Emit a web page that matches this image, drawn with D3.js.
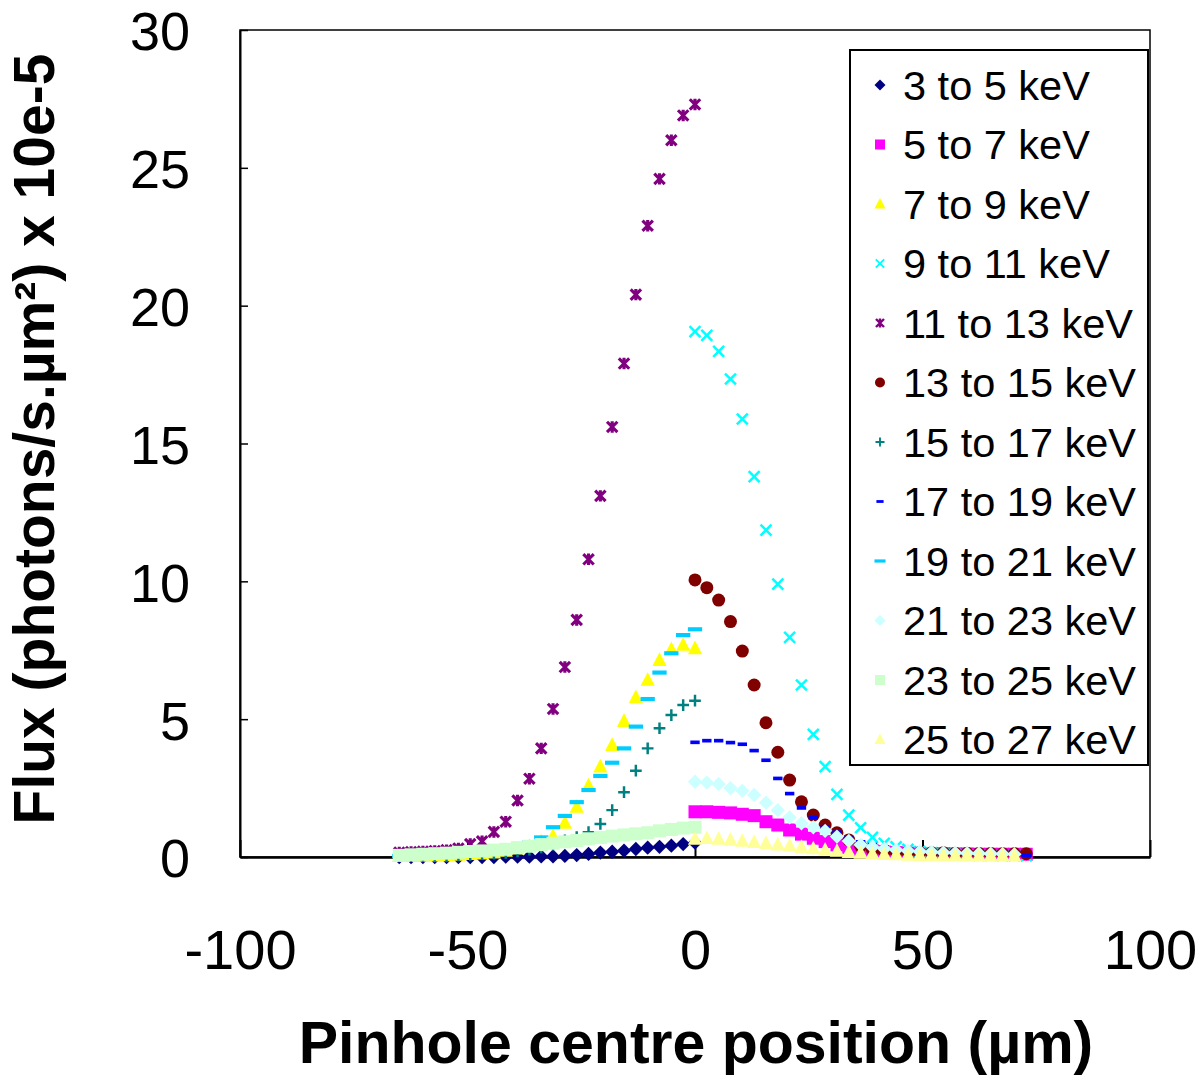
<!DOCTYPE html>
<html><head><meta charset="utf-8">
<script src="https://cdn.jsdelivr.net/npm/d3@7"></script>
<style>html,body{margin:0;padding:0;background:#fff;}svg{display:block;font-family:"Liberation Sans",Arial,Helvetica,sans-serif;}</style>
</head><body>
<svg id="chart" width="1200" height="1081"></svg>
<script>
// ---- data ----
const leftPositions = [0, -2.6, -5.2, -7.8, -10.4, -13, -15.6, -18.2, -20.8, -23.4, -26, -28.6, -31.2, -33.8, -36.4, -39, -41.6, -44.2, -46.8, -49.4, -52, -54.6, -57.2, -59.8, -62.4, -65];
const rightPositions = [0, 2.6, 5.2, 7.8, 10.4, 13, 15.6, 18.2, 20.8, 23.4, 26, 28.6, 31.2, 33.8, 36.4, 39, 41.6, 44.2, 46.8, 49.4, 52, 54.6, 57.2, 59.8, 62.4, 65, 67.6, 70.2, 72.8];

const kev3to5   = [0.52, 0.47, 0.41, 0.37, 0.34, 0.29, 0.23, 0.19, 0.16, 0.11, 0.07, 0.04, 0.02, 0.02, 0.01, 0.01, 0.01, 0, 0, 0, 0, 0, 0, 0, 0, 0];
const kev5to7   = [1.64, 1.64, 1.62, 1.6, 1.55, 1.5, 1.28, 1.16, 0.98, 0.83, 0.68, 0.56, 0.44, 0.35, 0.27, 0.22, 0.18, 0.16, 0.14, 0.13, 0.12, 0.12, 0.11, 0.11, 0.1, 0.1, 0.1, 0.1, 0.1];
const kev7to9   = [7.57, 7.69, 7.53, 7.14, 6.42, 5.79, 4.93, 4.06, 3.28, 2.59, 1.82, 1.24, 0.76, 0.56, 0.4, 0.3, 0.22, 0.16, 0.12, 0.1, 0.08, 0.06, 0.05, 0.04, 0.03, 0.03];
const kev9to11  = [19.06, 18.92, 18.34, 17.34, 15.89, 13.8, 11.86, 9.9, 7.97, 6.24, 4.45, 3.28, 2.27, 1.52, 1.06, 0.71, 0.5, 0.37, 0.28, 0.2, 0.15, 0.12, 0.1, 0.08, 0.07, 0.06, 0.05, 0.05, 0.04];
const kev11to13 = [27.3, 26.9, 26.0, 24.6, 22.9, 20.4, 17.9, 15.6, 13.1, 10.8, 8.6, 6.89, 5.37, 3.94, 2.84, 2.05, 1.28, 0.91, 0.57, 0.47, 0.31, 0.25, 0.22, 0.2, 0.18, 0.16];
const kev13to15 = [10.05, 9.77, 9.32, 8.54, 7.47, 6.24, 4.87, 3.8, 2.79, 2.0, 1.52, 1.16, 0.88, 0.62, 0.4, 0.25, 0.2, 0.18, 0.17, 0.16, 0.15, 0.15, 0.14, 0.14, 0.13, 0.13, 0.12, 0.12, 0.12];
const kev15to17 = [5.67, 5.51, 5.15, 4.67, 3.94, 3.13, 2.35, 1.7, 1.2, 0.9, 0.72, 0.6, 0.45, 0.35, 0.27, 0.2, 0.15, 0.12, 0.1, 0.08, 0.06, 0.05, 0.04, 0.04, 0.03, 0.03];
const kev17to19 = [4.16, 4.22, 4.22, 4.15, 4.09, 3.86, 3.51, 2.85, 2.3, 1.78, 1.43, 1.1, 0.9, 0.68, 0.55, 0.45, 0.37, 0.3, 0.25, 0.2, 0.17, 0.15, 0.13, 0.11, 0.1, 0.09, 0.08, 0.07, 0.06];
const kev19to21 = [8.26, 8.05, 7.39, 6.69, 5.73, 4.73, 3.94, 3.42, 2.94, 2.43, 1.99, 1.49, 1.08, 0.71, 0.52, 0.4, 0.3, 0.22, 0.16, 0.12, 0.1, 0.08, 0.06, 0.05, 0.04, 0.04];
const kev21to23 = [2.73, 2.7, 2.65, 2.5, 2.4, 2.25, 1.97, 1.7, 1.44, 1.22, 1.08, 0.95, 0.74, 0.58, 0.44, 0.36, 0.3, 0.26, 0.23, 0.2, 0.18, 0.16, 0.15, 0.14, 0.13, 0.12, 0.11, 0.1];
const kev23to25 = [1.08, 1.05, 1.0, 0.95, 0.88, 0.84, 0.8, 0.76, 0.71, 0.66, 0.6, 0.55, 0.5, 0.45, 0.39, 0.34, 0.28, 0.25, 0.22, 0.2, 0.17, 0.14, 0.12, 0.1, 0.08, 0.06];
const kev25to27 = [0.66, 0.68, 0.66, 0.62, 0.58, 0.54, 0.5, 0.45, 0.41, 0.36, 0.31, 0.26, 0.22, 0.18, 0.15, 0.12, 0.1, 0.09, 0.08, 0.07, 0.07, 0.06, 0.06, 0.06, 0.05, 0.05, 0.05, 0.05];

const seriesNames = ["3 to 5 keV","5 to 7 keV","7 to 9 keV","9 to 11 keV","11 to 13 keV","13 to 15 keV","15 to 17 keV","17 to 19 keV","19 to 21 keV","21 to 23 keV","23 to 25 keV","25 to 27 keV"];
const seriesValues = [kev3to5,kev5to7,kev7to9,kev9to11,kev11to13,kev13to15,kev15to17,kev17to19,kev19to21,kev21to23,kev23to25,kev25to27];
const seriesSide = ["L","R","L","R","L","R","L","R","L","R","L","R"];
const seriesColors = ["#000080","#FF00FF","#FFFF00","#00FFFF","#800080","#800000","#008080","#0000FF","#00CCFF","#CCFFFF","#CCFFCC","#FFFF99"];
const seriesMarkers = ["diamond","square","triangle","x","star","circle","plus","shortdash","longdash","diamond","square","triangle"];

const xTicks = [-100,-50,0,50,100];
const yTicks = [0,5,10,15,20,25,30];

// ---- layout ----
const svg = d3.select("#chart");
const x = d3.scaleLinear().domain([-100,100]).range([240,1150]);
const y = d3.scaleLinear().domain([0,30]).range([857,30]);

// frame
svg.append("rect").attr("x",240).attr("y",30).attr("width",910).attr("height",827)
  .attr("fill","none").attr("stroke","#000").attr("stroke-width",1.5);

// axes
const gx = svg.append("g").attr("transform","translate(0,857)")
  .call(d3.axisBottom(x).tickValues(xTicks).tickSizeInner(-17).tickSizeOuter(0).tickFormat(d3.format("d")));
gx.select(".domain").attr("stroke","#000").attr("stroke-width",2.5);
gx.selectAll(".tick line").attr("stroke","#000").attr("stroke-width",2);
gx.selectAll(".tick text").attr("y",112).attr("dy",null).attr("font-size",56)
  .attr("fill","#000").attr("font-family","'Liberation Sans',Arial,sans-serif").text(d => d < 0 ? "-" + Math.abs(d) : d);

const gy = svg.append("g").attr("transform","translate(240,0)")
  .call(d3.axisLeft(y).tickValues(yTicks).tickSizeInner(-8).tickSizeOuter(0).tickPadding(50));
gy.select(".domain").attr("stroke","#000").attr("stroke-width",2);
gy.selectAll(".tick line").attr("stroke","#000").attr("stroke-width",1.5);
gy.selectAll(".tick text").attr("font-size",54).attr("dy","0.37em").attr("fill","#000")
  .attr("font-family","'Liberation Sans',Arial,sans-serif");

// titles
svg.append("text").attr("x",696).attr("y",1063).attr("text-anchor","middle")
  .attr("font-size",59).attr("font-weight","bold").text("Pinhole centre position (µm)");
svg.append("text").attr("transform","translate(54,439) rotate(-90)").attr("text-anchor","middle")
  .attr("font-size",57).attr("font-weight","bold").text("Flux (photons/s.µm²) x 10e-5");

// marker drawing
function drawMarker(g, type, cx, cy, color, s) {
  switch(type) {
    case "diamond":
      g.append("path").attr("d",`M${cx},${cy-s*0.55}L${cx+s*0.55},${cy}L${cx},${cy+s*0.55}L${cx-s*0.55},${cy}Z`).attr("fill",color); break;
    case "square":
      g.append("rect").attr("x",cx-s*0.5).attr("y",cy-s*0.5).attr("width",s).attr("height",s).attr("fill",color); break;
    case "triangle":
      g.append("path").attr("d",`M${cx},${cy-s*0.6}L${cx+s*0.55},${cy+s*0.45}L${cx-s*0.55},${cy+s*0.45}Z`).attr("fill",color); break;
    case "circle":
      g.append("circle").attr("cx",cx).attr("cy",cy).attr("r",s*0.5).attr("fill",color); break;
    case "x": {
      const h = s*0.42;
      g.append("path").attr("d",`M${cx-h},${cy-h}L${cx+h},${cy+h}M${cx-h},${cy+h}L${cx+h},${cy-h}`)
        .attr("stroke",color).attr("stroke-width",Math.max(1.5,s*0.19)).attr("fill","none"); break; }
    case "star": {
      const h = s*0.4;
      g.append("path").attr("d",`M${cx-h},${cy-h}L${cx+h},${cy+h}M${cx-h},${cy+h}L${cx+h},${cy-h}M${cx},${cy-h*1.1}L${cx},${cy+h*1.1}`)
        .attr("stroke",color).attr("stroke-width",Math.max(1.5,s*0.24)).attr("fill","none"); break; }
    case "plus": {
      const h = s*0.45;
      g.append("path").attr("d",`M${cx-h},${cy}L${cx+h},${cy}M${cx},${cy-h}L${cx},${cy+h}`)
        .attr("stroke",color).attr("stroke-width",Math.max(1.5,s*0.19)).attr("fill","none"); break; }
    case "shortdash":
      g.append("rect").attr("x",cx-s*0.36).attr("y",cy-s*0.14).attr("width",s*0.72).attr("height",s*0.28).attr("fill",color); break;
    case "longdash":
      g.append("rect").attr("x",cx-s*0.55).attr("y",cy-s*0.16).attr("width",s*1.1).attr("height",s*0.32).attr("fill",color); break;
  }
}

const plot = svg.append("g");
seriesValues.forEach((vals, i) => {
  const xs = seriesSide[i] === "L" ? leftPositions : rightPositions;
  const g = plot.append("g").attr("class","series");
  vals.forEach((v, j) => {
    drawMarker(g, seriesMarkers[i], x(xs[j]), y(v), seriesColors[i], 13);
  });
});

// legend
const lg = svg.append("g");
lg.append("rect").attr("x",850).attr("y",50).attr("width",298).attr("height",715)
  .attr("fill","#fff").attr("stroke","#000").attr("stroke-width",2);
seriesNames.forEach((name, i) => {
  const cy = 85 + i*59.5;
  drawMarker(lg, seriesMarkers[i], 880, cy, seriesColors[i], 10);
  lg.append("text").attr("x",903).attr("y",cy).attr("dy","0.36em").attr("font-size",41.5).attr("fill","#000").text(name);
});
</script>
</body></html>
